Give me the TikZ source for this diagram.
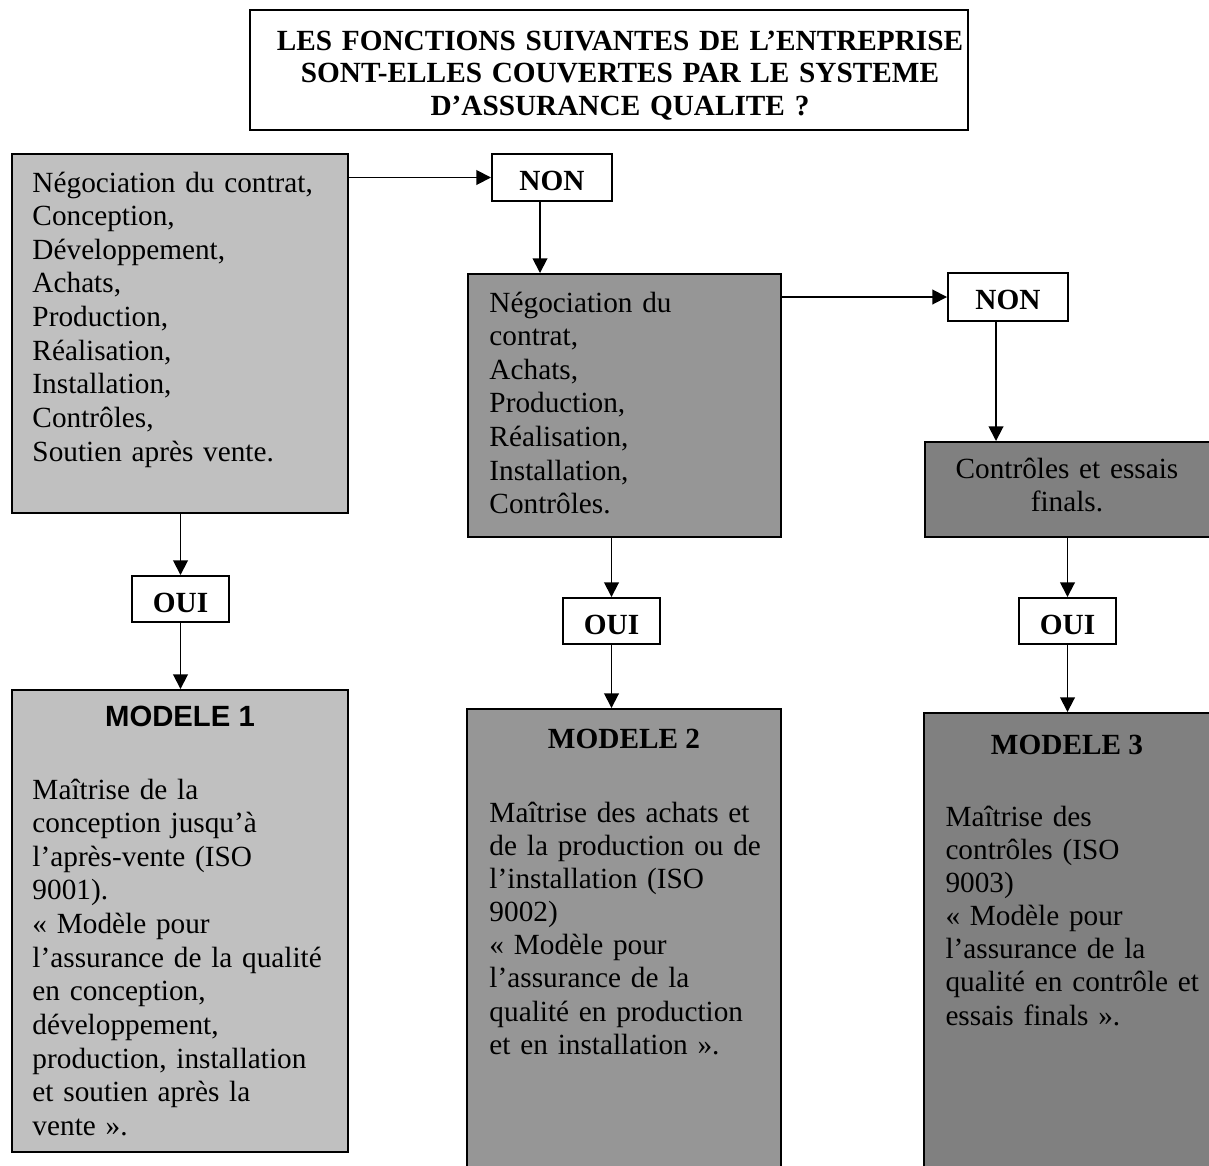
\documentclass[tikz,border=0pt]{standalone}
\usepackage{fontspec}
\setmainfont{Liberation Serif}
\newfontfamily\arialfont{Liberation Sans}
\usetikzlibrary{arrows.meta,fit}
\definecolor{gA}{HTML}{C0C0C0}
\definecolor{gB}{HTML}{969696}
\definecolor{gC}{HTML}{808080}
\begin{document}
\begin{tikzpicture}[x=0.41pt,y=-0.41pt,
  box/.style={draw=black, line width=0.8pt, inner sep=0pt},
  lab/.style={inner sep=0pt, anchor=base, font=\bfseries\fontsize{12}{13.8}\selectfont},
  txtA/.style={inner sep=0pt, anchor=base west, text width=140pt, align=left, font=\fontsize{12}{13.8}\selectfont},
  txtB/.style={inner sep=0pt, anchor=base west, text width=140pt, align=left, font=\fontsize{12}{13.6}\selectfont},
  headsans/.style={inner sep=0pt, font=\arialfont\bfseries\fontsize{12}{14}\selectfont},
  headserif/.style={inner sep=0pt, font=\bfseries\fontsize{12}{14}\selectfont},
  arr/.style={line width=0.75pt, -{Triangle[length=6pt,width=6pt]}}]
\useasboundingbox (0,0) rectangle (1209,1165);

% title
\node[box, fill=white, fit={(250,10) (968,130)}] (titlebox) {};
\node[inner sep=0pt, anchor=base, text width=300pt, align=center, font=\bfseries\fontsize{12}{13.5}\selectfont] (titletxt) at (620,50) {LES FONCTIONS SUIVANTES DE L’ENTREPRISE\\SONT-ELLES COUVERTES PAR LE SYSTEME\\D’ASSURANCE QUALITE ?};

% column 1
\node[box, fill=gA, fit={(12,154) (348,513)}] (b1) {};
\node[txtA] (t1) at (32,192) {Négociation du contrat,\\Conception,\\Développement,\\Achats,\\Production,\\Réalisation,\\Installation,\\Contrôles,\\Soutien après vente.};

\node[box, fill=white, fit={(132,576) (229,622)}] (oui1) {};
\node[lab] (oui1t) at (180.5,612) {OUI};

\node[box, fill=gA, fit={(12,690) (348,1152)}] (m1) {};
\node[headsans] (h1) at (180,716) {MODELE 1};
\node[txtA] (tm1) at (32,799) {Maîtrise de la\\conception jusqu’à\\l’après-vente (ISO\\9001).\\« Modèle pour\\l’assurance de la qualité\\en conception,\\développement,\\production, installation\\et soutien après la\\vente ».};

% column 2
\node[box, fill=white, fit={(492,154) (612,201)}] (non1) {};
\node[lab] (non1t) at (552,190) {NON};

\node[box, fill=gB, fit={(468,274) (781,537)}] (b2) {};
\node[txtA] (t2) at (489,312) {Négociation du\\contrat,\\Achats,\\Production,\\Réalisation,\\Installation,\\Contrôles.};

\node[box, fill=white, fit={(563,598) (660,644)}] (oui2) {};
\node[lab] (oui2t) at (611.5,634) {OUI};

\node[box, fill=gB, fit={(467,709) (781,1185)}] (m2) {};
\node[headserif] (h2) at (624,739) {MODELE 2};
\node[txtB] (tm2) at (489,822) {Maîtrise des achats et\\de la production ou de\\l’installation (ISO\\9002)\\« Modèle pour\\l’assurance de la\\qualité en production\\et en installation ».};

% column 3
\node[box, fill=white, fit={(948,273) (1068,321)}] (non2) {};
\node[lab] (non2t) at (1008,309) {NON};

\node[box, fill=gC, fit={(925,442) (1212,537)}] (b3) {};
\node[inner sep=0pt, anchor=base, text width=140pt, align=center, font=\fontsize{12}{13.8}\selectfont] (t3) at (1067,478) {Contrôles et essais\\finals.};

\node[box, fill=white, fit={(1019,598) (1116,644)}] (oui3) {};
\node[lab] (oui3t) at (1067.5,634) {OUI};

\node[box, fill=gC, fit={(924,713) (1212,1185)}] (m3) {};
\node[headserif] (h3) at (1067,745) {MODELE 3};
\node[txtB] (tm3) at (945,826) {Maîtrise des\\contrôles (ISO\\9003)\\« Modèle pour\\l’assurance de la\\qualité en contrôle et\\essais finals ».};

% connectors
\coordinate (xa) at (540,0);
\coordinate (xb) at (996,0);
\draw[arr] (b1.east |- non1.west) -- (non1.west);
\draw[arr] (non1.south -| xa) -- (b2.north -| xa);
\draw[arr] (b2.east |- non2.west) -- (non2.west);
\draw[arr] (non2.south -| xb) -- (b3.north -| xb);
\draw[arr] (b1.south -| oui1.north) -- (oui1.north);
\draw[arr] (oui1.south) -- (m1.north -| oui1.south);
\draw[arr] (b2.south -| oui2.north) -- (oui2.north);
\draw[arr] (oui2.south) -- (m2.north -| oui2.south);
\draw[arr] (b3.south -| oui3.north) -- (oui3.north);
\draw[arr] (oui3.south) -- (m3.north -| oui3.south);
\end{tikzpicture}
\end{document}
